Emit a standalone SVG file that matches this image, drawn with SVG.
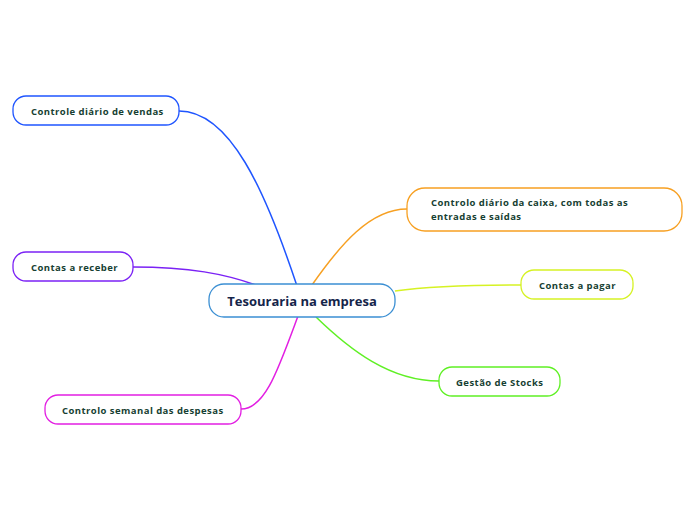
<svg xmlns="http://www.w3.org/2000/svg" width="696" height="520" viewBox="0 0 696 520">
<style>
.n{fill:#fff;stroke-width:1.3}
.t{font-family:"Open Sans","Noto Sans",sans-serif;font-weight:bold;font-size:9.5px;fill:#173f33;letter-spacing:0.45px}
.c{fill:none;stroke-width:1.5}
</style>
<rect width="696" height="520" fill="#fff"/>
<g id="connectors">
<path class="c" stroke="#1f55ff" d="M179,111 C230,111 265,190 297,286"/>
<path class="c" stroke="#7b22f5" d="M133,267 C190,267 225,274 256,285"/>
<path class="c" stroke="#e21fe2" d="M241,409 C265,409 278,370 298,316"/>
<path class="c" stroke="#f7a022" d="M407,209 C370,209 340,245 312,285"/>
<path class="c" stroke="#d6f224" d="M521,285 C470,285 430,286 395,291"/>
<path class="c" stroke="#5ff024" d="M439,381 C390,381 350,350 316,317"/>
</g>
<g id="center">
<rect class="n" x="209" y="284" width="186" height="33" rx="15" stroke="#3b8fd3"/>
<text x="302" y="305.5" text-anchor="middle" style="font-family:'Open Sans','Noto Sans',sans-serif;font-weight:bold;font-size:13px;fill:#15254a">Tesouraria na empresa</text>
</g>
<g id="n1">
<rect class="n" x="13" y="96" width="166" height="29" rx="13" stroke="#1f55ff"/>
<text class="t" x="31" y="115">Controle diário de vendas</text>
</g>
<g id="n2">
<rect class="n" x="13" y="252" width="120" height="29" rx="13" stroke="#7b22f5"/>
<text class="t" x="31" y="270.5">Contas a receber</text>
</g>
<g id="n3">
<rect class="n" x="45" y="395" width="196" height="29" rx="13" stroke="#e21fe2"/>
<text class="t" x="62" y="413.5">Controlo semanal das despesas</text>
</g>
<g id="n4">
<rect class="n" x="407" y="188" width="275" height="43" rx="18" stroke="#f7a022"/>
<text class="t" x="431" y="206">Controlo diário da caixa, com todas as</text>
<text class="t" x="431" y="220">entradas e saídas</text>
</g>
<g id="n5">
<rect class="n" x="521" y="270" width="112" height="29" rx="13" stroke="#d6f224"/>
<text class="t" x="539" y="288.5">Contas a pagar</text>
</g>
<g id="n6">
<rect class="n" x="439" y="367" width="121" height="29" rx="13" stroke="#5ff024"/>
<text class="t" x="456" y="385.5">Gestão de Stocks</text>
</g>
</svg>
